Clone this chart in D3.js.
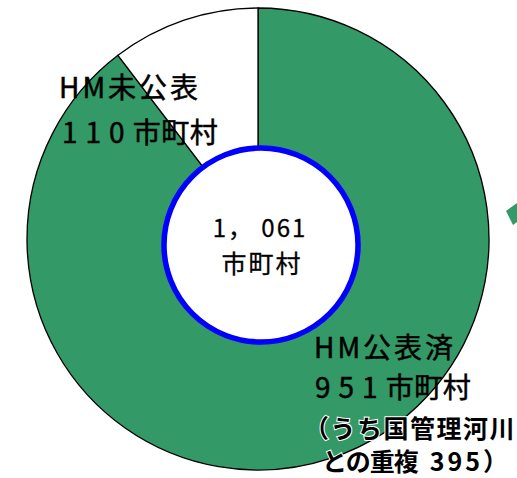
<!DOCTYPE html>
<html>
<head>
<meta charset="utf-8">
<script src="https://d3js.org/d3.v7.min.js"></script>
<style>
  body { margin: 0; background: #fff; }
  text { font-family: "Noto Sans CJK JP", "Noto Sans", sans-serif; fill: #000; }
  .lbl { stroke: #000; stroke-width: 0.5px; }
</style>
</head>
<body>
<script>

var w = 517, h = 478;

// data
var categories = ["HM公表済", "HM未公表"];
var values = [951, 110];
var colors = ["#339966", "#ffffff"];
var unit = "市町村";
var note = ["（うち国管理河川", "との重複", "395", "）"];

var svg = d3.select("body").append("svg").attr("width", w).attr("height", h);

var cx = 258, cy = 239, R = 231;

var pie = d3.pie().sort(null).value(function(d){ return d; });
var arc = d3.arc().innerRadius(0).outerRadius(R);

var g = svg.append("g").attr("transform", "translate(" + cx + "," + cy + ")");

g.selectAll("path")
  .data(pie(values))
  .enter().append("path")
  .attr("d", arc)
  .attr("fill", function(d, i){ return colors[i]; })
  .attr("stroke", "#000")
  .attr("stroke-width", 1.3);

// centre hole
svg.append("circle")
  .attr("cx", 261).attr("cy", 245).attr("r", 97)
  .attr("fill", "#fff")
  .attr("stroke", "#0000ff")
  .attr("stroke-width", 5.5);

var total = d3.sum(values);
svg.append("text")
  .attr("class", "lbl")
  .attr("x", 260).attr("y", 237)
  .attr("text-anchor", "middle")
  .attr("font-size", "24px")
  .attr("letter-spacing", "2px")
  .style("stroke-width", "0.3px")
  .text(d3.format(",")(total).replace(",", "， "));
svg.append("text")
  .attr("class", "lbl")
  .attr("x", 262).attr("y", 273)
  .attr("text-anchor", "middle")
  .attr("font-size", "25px")
  .attr("letter-spacing", "2px")
  .style("stroke-width", "0.3px")
  .text(unit);

// number + unit with the wide digit spacing of the original
function countLabel(x, y, v){
  var t = svg.append("text")
    .attr("class", "lbl")
    .attr("x", x).attr("y", y)
    .attr("font-size", "28px");
  t.append("tspan").attr("letter-spacing", "8px").text(v);
  t.append("tspan").attr("letter-spacing", "0.5px").text(unit);
}

// label: not published
svg.append("text")
  .attr("class", "lbl")
  .attr("x", 59).attr("y", 98)
  .attr("font-size", "28px")
  .attr("letter-spacing", "3px")
  .text(categories[1]);
countLabel(62, 143, values[1]);

// label: published
svg.append("text")
  .attr("class", "lbl")
  .attr("x", 314).attr("y", 358)
  .attr("font-size", "28px")
  .attr("letter-spacing", "3px")
  .text(categories[0]);
countLabel(315, 398, values[0]);

// note, bold with a thin white edge
svg.append("text")
  .attr("x", 304).attr("y", 438)
  .attr("font-size", "25px")
  .attr("font-weight", "bold")
  .attr("letter-spacing", "1.5px")
  .attr("stroke", "#fff").attr("stroke-width", 2).attr("paint-order", "stroke")
  .text(note[0]);
var n2 = svg.append("text")
  .attr("x", 322).attr("y", 471)
  .attr("font-size", "25px")
  .attr("font-weight", "bold")
  .attr("stroke", "#fff").attr("stroke-width", 2).attr("paint-order", "stroke");
n2.append("tspan").attr("letter-spacing", "-1px").text(note[1]);
n2.append("tspan").attr("dx", 12).attr("letter-spacing", "3px").text(note[2]);
n2.append("tspan").text(note[3]);

// bit of an arrow peeking in at the right edge
svg.append("polygon")
  .attr("points", "506,211 517,203 517,222 513,225")
  .attr("fill", "#339966");

</script>
</body>
</html>
